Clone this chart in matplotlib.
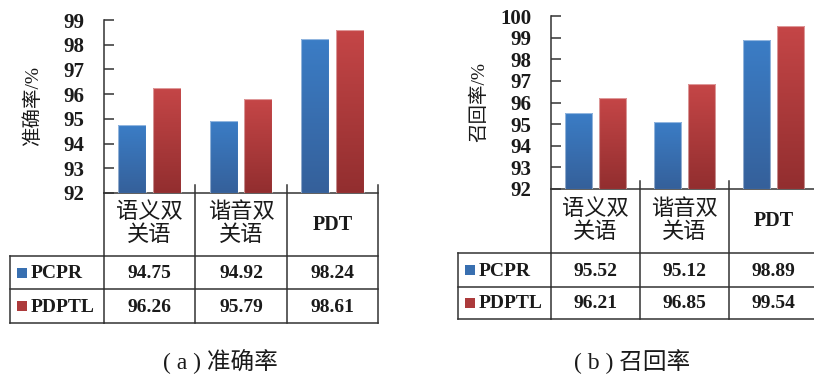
import numpy as np
import matplotlib
matplotlib.use("Agg")
import matplotlib.pyplot as plt
from matplotlib.transforms import Affine2D, blended_transform_factory
from matplotlib.lines import Line2D
from matplotlib.patches import Rectangle
from matplotlib.colors import LinearSegmentedColormap

categories = ["语义双\n关语", "谐音双\n关语", "PDT"]
series = ["PCPR", "PDPTL"]
precision_pcpr = [94.75, 94.92, 98.24]
precision_pdptl = [96.26, 95.79, 98.61]
recall_pcpr = [95.52, 95.12, 98.89]
recall_pdptl = [96.21, 96.85, 99.54]
precision_ticks = [92, 93, 94, 95, 96, 97, 98, 99]
recall_ticks = [92, 93, 94, 95, 96, 97, 98, 99, 100]

W, H = 814, 377
FONT = ["Liberation Serif", "Noto Sans CJK SC"]
plt.rcParams["font.family"] = FONT
LC = "#333333"
TC = "#1a1a1a"

fig = plt.figure(figsize=(W / 100, H / 100), dpi=100)
fig.patch.set_facecolor("white")
pxT = Affine2D().scale(1 / W, -1 / H).translate(0, 1) + fig.transFigure

blue_cmap = LinearSegmentedColormap.from_list("b", ["#35609a", "#3b7dc6"])
red_cmap = LinearSegmentedColormap.from_list("r", ["#922e2f", "#c54647"])
grad = np.linspace(0, 1, 256).reshape(-1, 1)


def panel(left, top, bottom, right, ylim, ticks, pcpr, pdptl, ylabel, ylabel_x,
          table_left, row1, row2, caption, cap_x):
    ax = fig.add_axes([left / W, 1 - bottom / H, (right - left) / W, (bottom - top) / H])
    x = np.arange(len(categories))
    w, off = 0.305, 0.19
    ax.set_xlim(-0.5, len(categories) - 0.5)
    ax.set_ylim(*ylim)
    for vals, xo, cmap in [(pcpr, -off, blue_cmap), (pdptl, off, red_cmap)]:
        bars = ax.bar(x + xo, np.array(vals) - ylim[0], w, bottom=ylim[0],
                      color=cmap(0.5), zorder=2)
        for b in bars:
            bx, by = b.get_x(), b.get_y()
            im = ax.imshow(grad, cmap=cmap, origin="lower", aspect="auto",
                           extent=[bx, bx + b.get_width(), by, by + b.get_height()],
                           zorder=3)
            im.set_clip_path(b)
        ax.bar(x + xo, np.array(vals) - ylim[0], w, bottom=ylim[0], fill=False,
               edgecolor=(1, 1, 1, 0.45), linewidth=0.8, zorder=4)
    ax.set_xlim(-0.5, len(categories) - 0.5)
    ax.set_ylim(*ylim)
    for s in ["top", "right"]:
        ax.spines[s].set_visible(False)
    for s in ["left", "bottom"]:
        ax.spines[s].set_color(LC)
        ax.spines[s].set_linewidth(1.1)
    ax.set_xticks([])
    ax.set_yticks(ticks)
    ax.tick_params(axis="y", direction="in", length=7, width=1.1, color=LC,
                   pad=14, labelsize=15, labelcolor=TC)
    for lab in ax.get_yticklabels():
        lab.set_fontweight("bold")
    ax.patch.set_visible(False)

    bt = blended_transform_factory(ax.transData, pxT)
    bounds = np.arange(len(categories) + 1) - 0.5
    # category dividers and tick marks above axis
    for i, b in enumerate(bounds):
        y0 = bottom if i == 0 else bottom - 8
        fig.add_artist(Line2D([b, b], [y0, row2], transform=bt, color=LC, lw=1.1))
    # horizontal lines
    for yy in [row1[0], row1[1], row2]:
        fig.add_artist(Line2D([table_left, left], [yy, yy], transform=pxT, color=LC, lw=1.1))
        fig.add_artist(Line2D([bounds[0], bounds[-1]], [yy, yy], transform=bt, color=LC, lw=1.1))
    fig.add_artist(Line2D([table_left, table_left], [row1[0], row2], transform=pxT,
                          color=LC, lw=1.1))
    # header labels
    hy = (bottom + row1[0]) / 2
    for i, c in enumerate(categories):
        fig.text(i, hy, c, transform=bt, ha="center", va="center",
                 fontsize=14.5 if c.isascii() else 16,
                 linespacing=1.15, color=TC,
                 fontweight="bold" if c.isascii() else "normal")
    # rows
    rows = [(row1[0], row1[1]), (row1[1], row2)]
    for (r0, r1), name, vals, cmap in zip(rows, series, [pcpr, pdptl], [blue_cmap, red_cmap]):
        ym = (r0 + r1) / 2
        fig.add_artist(Rectangle((table_left + 7, ym + 5), 10, -10, transform=pxT,
                                 facecolor=cmap(0.5), edgecolor="none"))
        fig.text(table_left + 21, ym + 1, name, transform=pxT, ha="left", va="center",
                 fontsize=14, fontweight="bold", color=TC)
        for i, v in enumerate(vals):
            fig.text(i, ym + 1, f"{v:.2f}", transform=bt, ha="center", va="center",
                     fontsize=14, fontweight="bold", color=TC)
    fig.text(ylabel_x, (top + bottom) / 2, ylabel, transform=pxT, rotation=90,
             ha="center", va="center", fontsize=14, color=TC)
    fig.text(cap_x, 362, caption, transform=pxT, ha="center", va="center",
             fontsize=17, color=TC)
    return ax


panel(104, 20, 193, 378, (92, 99), precision_ticks, precision_pcpr, precision_pdptl,
      "准确率/%", 33, 10, (256, 289), 323, "( a ) 准确率", 220)
panel(551, 16, 189, 551 + 3 * 89, (92, 100), recall_ticks, recall_pcpr, recall_pdptl,
      "召回率/%", 479, 458, (253, 287), 319, "( b ) 召回率", 632)

fig.savefig("out.png", dpi=100, facecolor="white")
